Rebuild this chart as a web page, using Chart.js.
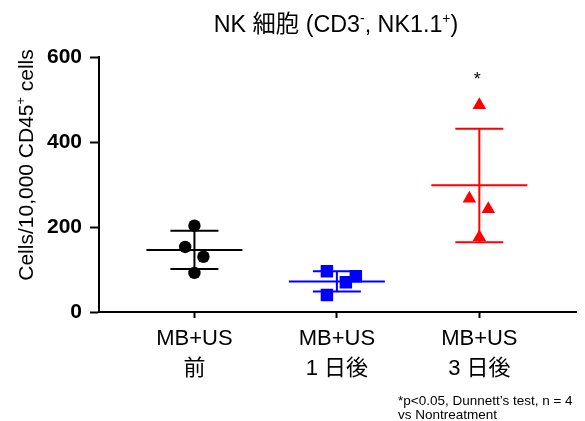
<!DOCTYPE html>
<html>
<head>
<meta charset="utf-8">
<script src="https://cdn.jsdelivr.net/npm/chart.js@4"></script>
<style>
  html,body{margin:0;padding:0;background:#fff}
  #wrap{position:relative;width:585px;height:421px}
</style>
</head>
<body>
<div id="wrap"><canvas id="c" width="585" height="421"></canvas></div>
<script>
// values
const catLabels = [['MB+US','前'], ['MB+US','1 日後'], ['MB+US','3 日後']];
const preVals   = [203, 153, 130, 92];
const day1Vals  = [96, 84, 70, 40];
const day3Vals  = [487, 267, 242, 176];
// horizontal scatter of the points, in category units
const preJit    = [0, -0.065, 0.063, 0];
const day1Jit   = [-0.07, 0.133, 0.063, -0.07];
const day3Jit   = [0, -0.07, 0.063, 0];
// mean and mean±SD lines
const means  = [146, 72, 298];
const sdHigh = [191, 96, 431];
const sdLow  = [101, 48, 164];
const sigMarks = ['', '', '*'];
const sigY = 560;
const yTicks = [0, 200, 400, 600];

const FONT = "'Liberation Sans', Arial, 'Noto Sans CJK JP', sans-serif";
const COLORS = ['#000000', '#0000ff', '#ff0000'];

const pts = (vals, jit, cat) => vals.map((v,i) => ({x: cat + jit[i], y: v}));

function richText(ctx, parts, x, y, size) {
  // parts: [text, sup?]; centred at x, baseline y
  const w = parts.reduce((s,[t,sup]) => {
    ctx.font = (sup ? size*0.6 : size) + 'px ' + FONT;
    return s + ctx.measureText(t).width;
  }, 0);
  let cx = x - w/2;
  ctx.textAlign = 'left'; ctx.textBaseline = 'alphabetic';
  parts.forEach(([t,sup]) => {
    ctx.font = (sup ? size*0.6 : size) + 'px ' + FONT;
    ctx.fillText(t, cx, sup ? y - size*0.38 : y);
    cx += ctx.measureText(t).width;
  });
}

const errBars = {
  id: 'errBars',
  beforeDatasetsDraw(chart) {
    const {ctx, scales:{x, y}} = chart;
    ctx.save();
    ctx.lineWidth = 2;
    means.forEach((m,i) => {
      const xc = x.getPixelForValue(i+1);
      ctx.strokeStyle = COLORS[i];
      ctx.beginPath();
      ctx.moveTo(xc-48, y.getPixelForValue(m)); ctx.lineTo(xc+48, y.getPixelForValue(m));
      ctx.moveTo(xc, y.getPixelForValue(sdLow[i])); ctx.lineTo(xc, y.getPixelForValue(sdHigh[i]));
      ctx.moveTo(xc-24, y.getPixelForValue(sdHigh[i])); ctx.lineTo(xc+24, y.getPixelForValue(sdHigh[i]));
      ctx.moveTo(xc-24, y.getPixelForValue(sdLow[i])); ctx.lineTo(xc+24, y.getPixelForValue(sdLow[i]));
      ctx.stroke();
    });
    ctx.restore();
  }
};

const texts = {
  id: 'texts',
  afterDraw(chart) {
    const {ctx, scales:{x, y}} = chart;
    ctx.save();
    ctx.fillStyle = '#000';
    // title
    richText(ctx, [['NK 細胞 (CD3'],['-',1],[', NK1.1'],['+',1],[')']], 336, 32, 23.3);
    // y axis title
    ctx.save();
    ctx.translate(33, 165); ctx.rotate(-Math.PI/2);
    richText(ctx, [['Cells/10,000 CD45'],['+',1],[' cells']], 0, 0, 21);
    ctx.restore();
    // significance
    ctx.font = '18px ' + FONT; ctx.textAlign = 'center'; ctx.textBaseline = 'alphabetic';
    sigMarks.forEach((s,i) => { if (s) ctx.fillText(s, x.getPixelForValue(i+1) - 2, y.getPixelForValue(sigY) + 10.5); });
    // footnote
    ctx.font = '13.5px ' + FONT; ctx.textAlign = 'left';
    ctx.fillText('*p<0.05, Dunnett’s test, n = 4', 398, 405);
    ctx.fillText('vs Nontreatment', 398, 419);
    ctx.restore();
  }
};

const axisStyle = {color:'#000', width:2};

new Chart(document.getElementById('c'), {
  type: 'scatter',
  data: {
    datasets: [
      {data: pts(preVals, preJit, 1), pointStyle:'circle', pointRadius:6.2, backgroundColor:COLORS[0], borderColor:COLORS[0], borderWidth:0},
      {data: pts(day1Vals, day1Jit, 2), pointStyle:'rect', pointRadius:8.8, backgroundColor:COLORS[1], borderColor:COLORS[1], borderWidth:0},
      {data: pts(day3Vals, day3Jit, 3), pointStyle:'triangle', pointRadius:7.8, backgroundColor:COLORS[2], borderColor:COLORS[2], borderWidth:0}
    ]
  },
  options: {
    responsive:false, animation:false,
    layout:{padding:{top:57, right:7, left:0, bottom:0}},
    plugins:{legend:{display:false}, title:{display:false}, tooltip:{enabled:false}},
    scales:{
      x:{
        type:'linear', min:0.33, max:3.68,
        afterBuildTicks: s => { s.ticks = [1,2,3].map(v => ({value:v})); },
        afterFit: s => { s.height = 421 - 312; },
        ticks:{callback: v => catLabels[v-1], color:'#000', padding:6, maxRotation:0, autoSkip:false,
               font:{family:FONT, size:22, lineHeight:1.364}},
        grid:{drawOnChartArea:false, tickLength:6, tickWidth:2, color:'#000'},
        border:axisStyle
      },
      y:{
        min:0, max:600,
        afterBuildTicks: s => { s.ticks = yTicks.map(v => ({value:v})); },
        afterFit: s => { s.width = 99; },
        ticks:{color:'#000', padding:8, font:{family:FONT, size:21, weight:'bold'}},
        grid:{drawOnChartArea:false, tickLength:9, tickWidth:2, color:'#000'},
        border:axisStyle
      }
    }
  },
  plugins:[errBars, texts]
});
</script>
</body>
</html>
